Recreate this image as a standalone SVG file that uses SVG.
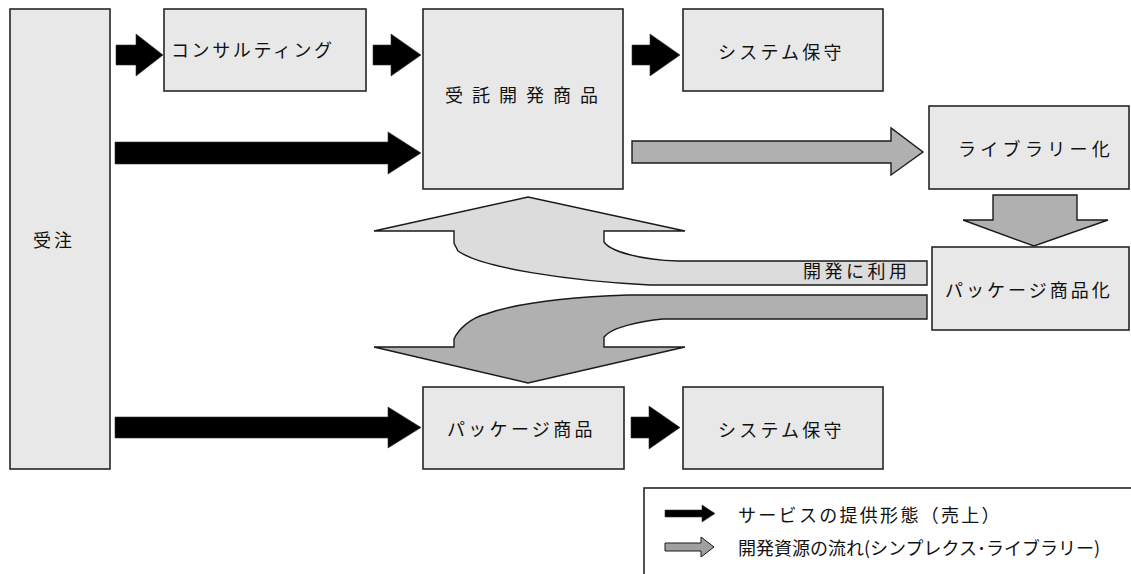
<svg xmlns="http://www.w3.org/2000/svg" width="1131" height="574" viewBox="0 0 1131 574">
<style>
.box{fill:#e8e8e8;stroke:#262626;stroke-width:1.6}
.t{font-family:"Noto Sans CJK JP","Noto Sans",sans-serif;font-size:18px;fill:#111;dominant-baseline:central}
.blk{fill:#000;stroke:#333;stroke-width:0.6}
.gry{fill:#b0b0b0;stroke:#1a1a1a;stroke-width:1.4}
.lgt{fill:#dcdcdc;stroke:#1a1a1a;stroke-width:1.4}
</style>
<rect width="1131" height="574" fill="#fff"/>
<g id="connectors">
<polygon class="blk" points="116,45 136,45 136,34 163,55 136,76 136,65 116,65"/>
<polygon class="blk" points="373,45 391,45 391,34 421,55 391,76 391,65 373,65"/>
<polygon class="blk" points="632,45 650,45 650,34 680,55 650,76 650,65 632,65"/>
<polygon class="blk" points="115,142 388,142 388,132 421,153 388,174 388,164 115,164"/>
<polygon class="blk" points="115,417 388,417 388,407 421,427.5 388,448 388,438 115,438"/>
<polygon class="blk" points="631,417 649,417 649,406 680,427.5 649,449 649,438 631,438"/>
<polygon class="gry" points="632,141 891,141 891,128 923,152 891,175 891,163 632,163"/>
<polygon class="gry" points="993,195 1077,195 1077,220 1108,220 1034,246 963,220 993,220"/>
<path class="lgt" d="M374,231 L528,197 L685,231 L604,231 L604,242 C610,251 640,260 678,261 L927,261 L927,285 L650,285 C570,281 482,268 458,251 L454,243 L454,231 Z"/>
<text class="t" x="803" y="270" style="letter-spacing:3.5px">開発に利用</text>
<path class="gry" d="M374,347 L454,347 L454,339 C458,330 470,318 486,314 C520,302 570,297 628,295 L927,295 L927,319 L663,319 C640,321 610,328 604,337 L604,347 L685,347 L528,383 Z"/>
</g>
<g id="n-juchu"><rect class="box" x="10" y="9" width="100" height="460"/><text class="t" x="33" y="239" style="letter-spacing:3px">受注</text></g>
<g id="n-consulting"><rect class="box" x="164" y="9" width="202" height="82"/><text class="t" x="171" y="49" style="letter-spacing:2.6px">コンサルティング</text></g>
<g id="n-jutaku"><rect class="box" x="423" y="9" width="200" height="180"/><text class="t" x="445" y="94" style="letter-spacing:9px">受託開発商品</text></g>
<g id="n-hoshu1"><rect class="box" x="683" y="9" width="200" height="82"/><text class="t" x="718" y="51" style="letter-spacing:3.2px">システム保守</text></g>
<g id="n-library"><rect class="box" x="929" y="106" width="200" height="83"/><text class="t" x="958" y="147.5" style="letter-spacing:4.3px">ライブラリー化</text></g>
<g id="n-pkgka"><rect class="box" x="932" y="247" width="197" height="83"/><text class="t" x="945" y="289" style="letter-spacing:3px">パッケージ商品化</text></g>
<g id="n-pkg"><rect class="box" x="423" y="387" width="201" height="82"/><text class="t" x="447" y="428" style="letter-spacing:3.3px">パッケージ商品</text></g>
<g id="n-hoshu2"><rect class="box" x="683" y="387" width="200" height="82"/><text class="t" x="718" y="429" style="letter-spacing:3.2px">システム保守</text></g>
<g id="legend">
<rect x="644" y="488" width="500" height="100" fill="#fff" stroke="#262626" stroke-width="1.6"/>
<polygon class="blk" points="665,510 702,510 702,505 715,513.5 702,522 702,517 665,517"/>
<text class="t" x="738" y="514" style="letter-spacing:2.3px">サービスの提供形態（売上）</text>
<polygon points="665,543 701,543 701,537 714,547 701,557 701,551 665,551" fill="#a0a0a0" stroke="#1a1a1a" stroke-width="1"/>
<text class="t" x="738" y="547">開発資源の流れ(シンプレクス･ライブラリー)</text>
</g>
</svg>
